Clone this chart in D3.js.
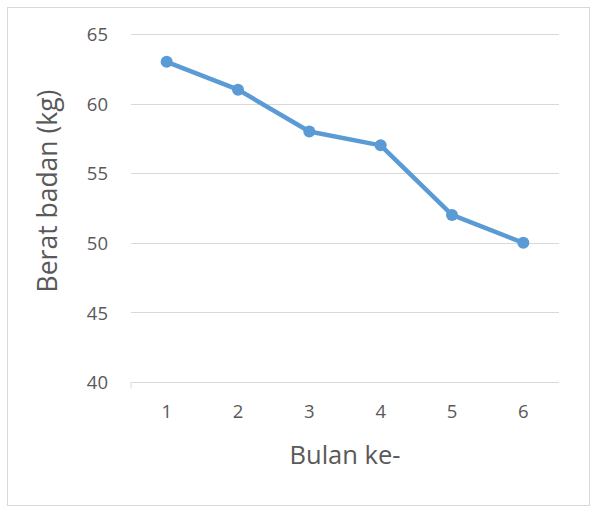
<!DOCTYPE html>
<html><head><meta charset="utf-8">
<script src="https://cdn.jsdelivr.net/npm/d3@7"></script>
<style>body{margin:0;background:#fff}svg{display:block}text{font-family:"Open Sans","Noto Sans",sans-serif;fill:#595959}</style>
</head><body><svg id="c" width="600" height="515"></svg>
<script>
const months = ["1","2","3","4","5","6"];
const weights = [63, 61, 58, 57, 52, 50];
const yTicks = [40, 45, 50, 55, 60, 65];

const svg = d3.select("#c");
svg.append("rect").attr("x",7.5).attr("y",7.5).attr("width",582).attr("height",498)
  .attr("fill","#fff").attr("stroke","#d9d9d9").attr("stroke-width",1);

const x = d3.scaleBand().domain(months).range([131,559]);
const y = d3.scaleLinear().domain([40,65]).range([382,34]);

svg.append("g").selectAll("line").data(yTicks.filter(d=>d>40)).join("line")
  .attr("x1",131).attr("x2",559).attr("y1",d=>Math.round(y(d))+0.5).attr("y2",d=>Math.round(y(d))+0.5)
  .attr("stroke","#d9d9d9").attr("stroke-width",1);

const yAxis = svg.append("g").attr("transform","translate(108,0)")
  .call(d3.axisLeft(y).tickValues(yTicks).tickSize(0).tickPadding(0));
yAxis.select(".domain").remove();
yAxis.selectAll("text").attr("font-size",18.5).attr("fill","#595959").attr("dy","0.36em").attr("text-anchor","end").attr("x",0);

const xAxis = svg.append("g").attr("transform","translate(0,"+(Math.round(y(40))+0.5)+")")
  .call(d3.axisBottom(x).tickSize(0).tickPadding(0));
xAxis.select(".domain").attr("stroke","#d9d9d9").attr("d","M131,6V0H559");
xAxis.selectAll("text").attr("font-size",18.5).attr("fill","#595959").attr("y",29).attr("dy","0.36em");

svg.append("text").attr("transform","translate(57,191) rotate(-90)").attr("text-anchor","middle")
  .attr("font-size",26.5).text("Berat badan (kg)");
svg.append("text").attr("x",345).attr("y",464).attr("text-anchor","middle")
  .attr("font-size",25.5).text("Bulan ke-");

const pts = months.map((m,i)=>({m, v:weights[i]}));
const line = d3.line().x(d=>x(d.m)+x.bandwidth()/2).y(d=>y(d.v));
svg.append("path").datum(pts).attr("d",line).attr("fill","none")
  .attr("stroke","#5b9bd5").attr("stroke-width",4.5).attr("stroke-linejoin","round").attr("stroke-linecap","round");
svg.selectAll("circle.pt").data(pts).join("circle")
  .attr("cx",d=>x(d.m)+x.bandwidth()/2).attr("cy",d=>y(d.v)).attr("r",6).attr("fill","#5b9bd5");
</script></body></html>
